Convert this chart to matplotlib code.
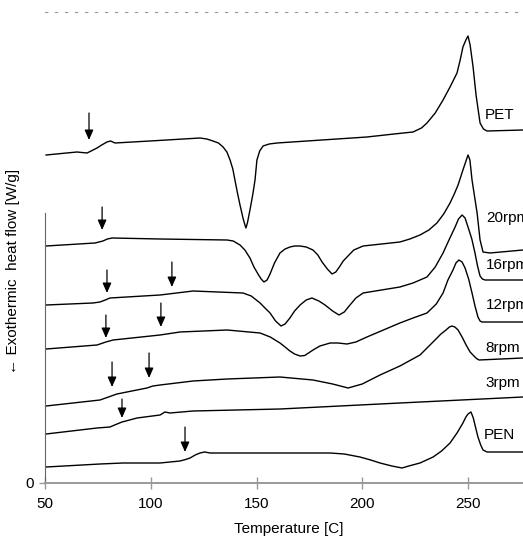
import numpy as np
import matplotlib
matplotlib.use("Agg")
import matplotlib.pyplot as plt

plt.rcParams['font.family'] = ['Liberation Sans', 'DejaVu Sans']

# DSC traces: temperature [C], heat flow (arbitrary, offset)
pet_t = [50.5, 65.1, 69.9, 74.6, 76.8, 79.3, 81.0, 83.1, 99.6, 123.3, 126.5, 129.4, 132.0, 134.2,
         136.0, 137.5, 138.8, 139.8, 141.0, 142.2, 143.6, 144.4, 145.0, 145.7, 146.9, 148.2, 149.3,
         150.2, 151.5, 153.1, 156.0, 159.7, 202.2, 215.0, 224.0, 228.0, 230.6, 234.5, 238.2, 241.5,
         244.8, 246.3, 247.6, 249.0, 250.0, 251.0, 252.4, 253.8, 255.7, 257.3, 259.0, 276.0]
pet_q = [32.8, 33.1, 33.0, 33.5, 33.8, 34.1, 34.2, 34.0, 34.2, 34.5, 34.4, 34.2, 34.0, 33.6,
         33.1, 32.3, 31.4, 30.3, 29.0, 27.8, 26.5, 25.9, 25.5, 26.0, 27.3, 28.8, 30.3,
         32.3, 33.2, 33.7, 33.9, 34.0, 34.6, 34.9, 35.1, 35.5, 36.0, 37.0, 38.3, 39.6,
         41.0, 42.3, 43.6, 44.3, 44.7, 43.8, 41.6, 38.8, 36.0, 35.4, 35.2, 35.3]

r20_t = [50.5, 73.6, 77.4, 79.5, 81.7, 104.4, 136.1, 139.0, 142.2, 144.5, 146.9, 148.8, 150.7,
         152.2, 153.5, 155.0, 156.4, 158.5, 161.1, 163.5, 165.8, 168.0, 170.6, 173.5, 176.7,
         179.0, 181.0, 183.5, 185.7, 187.5, 189.5, 191.0, 192.8, 196.0, 200.4, 217.8, 222.5,
         227.3, 231.5, 235.3, 238.5, 241.5, 243.5, 245.3, 247.6, 250.0, 250.9, 251.9, 254.3,
         255.7, 257.1, 260.4, 276.0]
r20_q = [23.7, 24.0, 24.2, 24.4, 24.5, 24.4, 24.3, 24.2, 23.8, 23.3, 22.5, 21.6, 20.9,
         20.4, 20.1, 20.3, 20.9, 22.0, 23.0, 23.4, 23.6, 23.7, 23.7, 23.6, 23.3,
         22.8, 22.1, 21.4, 20.9, 21.1, 21.7, 22.2, 22.6, 23.3, 23.7, 24.1, 24.4,
         24.8, 25.3, 26.0, 26.9, 28.0, 28.9, 29.8, 31.3, 32.8, 32.3, 30.3, 27.0,
         24.3, 23.1, 23.0, 23.3]

r16_t = [50.5, 72.7, 76.0, 78.5, 80.7, 104.4, 120.0, 143.6, 147.5, 151.7, 154.0, 156.4, 159.0,
         161.6, 163.5, 165.8, 168.0, 170.6, 173.5, 176.2, 179.5, 182.4, 186.0, 189.0, 191.5,
         194.2, 197.0, 200.4, 217.8, 224.0, 230.6, 234.5, 238.2, 241.0, 243.9, 245.5, 247.2,
         248.6, 250.0, 251.8, 253.3, 254.5, 255.7, 256.8, 258.0, 276.0]
r16_q = [17.8, 18.0, 18.1, 18.3, 18.5, 18.8, 19.2, 19.0, 18.7, 18.0, 17.5, 17.0, 16.2,
         15.7, 15.9, 16.5, 17.2, 17.8, 18.3, 18.5, 18.2, 17.8, 17.2, 16.8, 17.1,
         17.8, 18.5, 19.0, 19.6, 20.0, 20.6, 21.6, 23.0, 24.3, 25.6, 26.4, 26.8,
         26.5, 25.6, 24.4, 23.0, 21.7, 20.7, 20.4, 20.3, 20.3]

r12_t = [50.5, 74.6, 78.8, 82.2, 104.4, 113.8, 136.1, 151.7, 156.5, 161.1, 163.5, 165.8, 168.0,
         170.6, 172.8, 175.3, 177.5, 180.0, 184.8, 188.5, 192.8, 197.0, 202.2, 210.0, 217.8,
         224.0, 230.6, 235.0, 238.2, 240.5, 242.9, 244.3, 245.7, 247.2, 248.6, 250.3, 251.9,
         253.3, 254.7, 255.7, 256.6, 276.0]
r12_q = [13.4, 13.8, 14.1, 14.3, 14.8, 15.1, 15.3, 15.0, 14.6, 14.0, 13.6, 13.2, 12.9,
         12.7, 12.75, 13.1, 13.4, 13.7, 14.0, 14.0, 13.9, 14.1, 14.6, 15.3, 16.0,
         16.5, 17.0, 17.9, 19.0, 20.3, 21.3, 22.0, 22.3, 22.1, 21.5, 20.4, 19.0,
         17.7, 16.6, 16.2, 16.1, 16.1]

r8_t = [50.5, 76.0, 80.0, 84.0, 98.2, 101.0, 104.4, 120.0, 136.1, 161.1, 176.7, 186.0, 193.3,
        200.0, 208.4, 217.8, 227.3, 234.4, 237.2, 239.6, 241.2, 242.4, 243.8, 245.3, 247.2,
        249.1, 251.0, 252.8, 254.0, 255.2, 276.0]
r8_q = [7.7, 8.3, 8.6, 8.9, 9.5, 9.7, 9.8, 10.2, 10.4, 10.6, 10.3, 9.9, 9.5,
        9.9, 10.8, 11.7, 12.8, 14.3, 14.9, 15.3, 15.6, 15.7, 15.6, 15.3, 14.6,
        13.8, 13.1, 12.7, 12.45, 12.3, 12.5]

r3_t = [50.5, 74.6, 80.7, 83.5, 86.4, 90.0, 93.5, 104.4, 106.7, 109.1, 120.0, 161.1, 217.8, 276.0]
r3_q = [4.9, 5.5, 5.6, 5.85, 6.1, 6.3, 6.5, 6.8, 7.1, 7.0, 7.2, 7.4, 8.0, 8.6]

pen_t = [50.5, 76.0, 86.9, 104.4, 113.8, 116.5, 118.6, 121.0, 123.3, 125.5, 128.0, 184.8, 191.5,
         198.9, 204.0, 208.4, 214.0, 218.8, 222.0, 227.3, 233.5, 237.5, 241.5, 244.8, 247.6,
         249.0, 250.0, 251.4, 252.5, 253.3, 254.7, 256.0, 257.1, 259.0, 276.0]
pen_q = [1.6, 1.9, 2.0, 2.0, 2.2, 2.35, 2.5, 2.8, 3.0, 3.1, 3.0, 3.0, 2.9,
         2.6, 2.3, 2.0, 1.7, 1.5, 1.7, 2.0, 2.6, 3.2, 4.0, 5.0, 6.0,
         6.6, 6.9, 7.1, 6.5, 5.8, 4.6, 3.8, 3.3, 3.1, 3.1]

# curve labels and their positions
labels = ["PET", "20rpm", "16rpm", "12rpm", "8rpm", "3rpm", "PEN"]
label_t = [258.0, 258.4, 258.4, 258.4, 258.4, 258.4, 257.6]
label_q = [36.8, 26.5, 21.8, 17.8, 13.5, 10.0, 4.8]

# glass transition markers: temperature, arrow top, arrow tip
arrow_t = [70.8, 77.0, 79.3, 110.0, 78.8, 104.8, 81.7, 99.2, 86.4, 116.2]
arrow_top = [37.0, 27.6, 21.3, 22.1, 16.8, 18.0, 12.1, 13.0, 8.4, 5.6]
arrow_tip = [34.3, 25.3, 19.0, 19.6, 14.5, 15.6, 9.6, 10.5, 6.5, 3.1]

fig = plt.figure(figsize=(5.23, 5.40), dpi=100)
ax = fig.add_axes([45/523, 57/540, 478/523, 471/540])

curves = [(pet_t, pet_q), (r20_t, r20_q), (r16_t, r16_q), (r12_t, r12_q),
          (r8_t, r8_q), (r3_t, r3_q), (pen_t, pen_q)]
for t, q in curves:
    ax.plot(t, q, color='black', lw=1.0, solid_joinstyle='round')

for name, x, y in zip(labels, label_t, label_q):
    ax.text(x, y, name, fontsize=11, va='center', ha='left', clip_on=False)

for x, y0, y1 in zip(arrow_t, arrow_top, arrow_tip):
    ax.annotate('', xy=(x, y1), xytext=(x, y0),
                arrowprops=dict(arrowstyle='-|>,head_length=0.5,head_width=0.22',
                                color='black', lw=0.9, shrinkA=0, shrinkB=0,
                                mutation_scale=12))

ax.set_xlim(50, 276)
ax.set_ylim(0, 47.1)
ax.set_xticks([50, 100, 150, 200, 250])
ax.set_yticks([0])
ax.tick_params(axis='x', direction='inout', length=8, width=1.0, color='#999999',
               labelsize=11, pad=6)
ax.tick_params(axis='y', direction='out', length=4, width=1.0, color='#999999',
               labelsize=11, pad=4)

ax.spines['right'].set_visible(False)
ax.spines['bottom'].set_color('#999999')
ax.spines['bottom'].set_linewidth(1.4)
ax.spines['left'].set_color('#666666')
ax.spines['left'].set_linewidth(0.8)
ax.spines['left'].set_bounds(0, 27.0)
ax.spines['top'].set_color('#999999')
ax.spines['top'].set_linewidth(0.8)
ax.spines['top'].set_linestyle((0, (2, 7)))

ax.set_xlabel('Temperature [C]', fontsize=11)
ax.xaxis.set_label_coords(0.51, -0.082)
ax.set_ylabel('\u2190 Exothermic  heat flow [W/g]', fontsize=11)
ax.yaxis.set_label_coords(-0.052, 0.45)

fig.savefig('out.png', dpi=100)
